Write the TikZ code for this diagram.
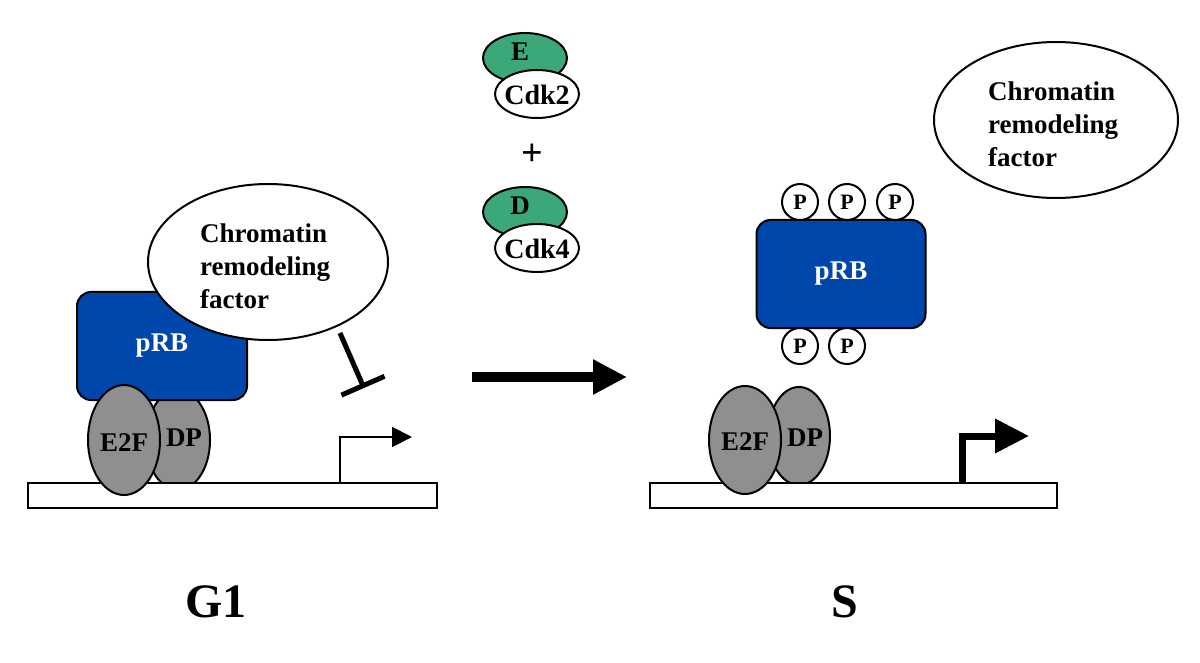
\documentclass[tikz,border=0pt]{standalone}
\usepackage{fontspec}
\setmainfont{Liberation Serif}
\usetikzlibrary{shapes.geometric,arrows.meta}
\definecolor{rbblue}{RGB}{0,71,171}
\definecolor{protgray}{RGB}{143,143,143}
\definecolor{cycgreen}{RGB}{60,168,122}
\begin{document}
\begin{tikzpicture}[x=1pt,y=-1pt,
  outl/.style={draw=black,line width=2pt},
  lbl/.style={font=\fontsize{27}{33}\selectfont\bfseries,inner sep=0pt},
  cdklbl/.style={font=\fontsize{28}{33}\selectfont\bfseries,inner sep=0pt},
  biglbl/.style={font=\fontsize{48}{56}\selectfont\bfseries,inner sep=0pt},
  prot/.style={ellipse,outl,fill=protgray,inner sep=0pt},
  dna/.style={rectangle,outl,fill=white,inner sep=0pt,minimum height=25pt},
  rbbox/.style={rectangle,rounded corners=14pt,outl,fill=rbblue,inner sep=0pt,
    font=\fontsize{27}{33}\selectfont\bfseries,text=white},
  crf/.style={ellipse,outl,fill=white,inner sep=0pt},
  cyc/.style={ellipse,outl,fill=cycgreen,inner sep=0pt,minimum width=84pt,minimum height=50pt},
  cdk/.style={ellipse,outl,fill=white,inner sep=0pt,minimum width=84pt,minimum height=48pt},
  phos/.style={circle,outl,fill=white,inner sep=0pt,minimum size=36pt,
    font=\fontsize{22}{24}\selectfont\bfseries},
]
\useasboundingbox (0,0) rectangle (1200,663);

% ---------------- G1 (left) ----------------
\node[prot,minimum width=64pt,minimum height=100pt] (dpL) at (178,440) {};
\node[dna,minimum width=409pt] (dnaL) at (232.5,495.5) {};
\node[rbbox,minimum width=170pt,minimum height=108pt] (prbL) at (162,346) {pRB};
\node[prot,minimum width=72pt,minimum height=110pt] (e2fL) at (124,440) {};
\node[lbl] (e2fLt) at (124,443) {E2F};
\node[lbl] (dpLt) at (184,438) {DP};
\node[crf,minimum width=240pt,minimum height=156pt] (crfL) at (268,262) {};
\node[lbl,align=left,anchor=west] (crfLt) at (200,266) {Chromatin\\remodeling\\factor};

\coordinate (inhS) at (340,333);
\coordinate (inhE) at (364,388);
\draw[line width=5pt,-{Bar[width=47pt]}] (inhS) -- (inhE);

\coordinate (tssL) at (340,483);
\coordinate (tssLend) at (412,437);
\draw[line width=2pt,-{Triangle[length=20pt,width=20pt]}] (tssL) |- (tssLend);

% ---------------- middle ----------------
\node[cyc] (cycE) at (525,58) {};
\node[lbl] (cycEt) at (520,52) {E};
\node[cdk] (cdk2) at (537,94) {};
\node[cdklbl] (cdk2t) at (537,95) {Cdk2};
\node[lbl,font=\fontsize{38}{40}\selectfont\bfseries] (plus) at (532,155) {+};
\node[cyc] (cycD) at (525,212) {};
\node[lbl] (cycDt) at (520,206) {D};
\node[cdk] (cdk4) at (537,248) {};
\node[cdklbl] (cdk4t) at (537,249) {Cdk4};

\coordinate (arrS) at (472,377);
\coordinate (arrE) at (627,377);
\draw[line width=10pt,-{Triangle[length=34pt,width=33pt]}] (arrS) -- (arrE);

% ---------------- S (right) ----------------
\node[rbbox,minimum width=169pt,minimum height=108pt] (prbR) at (841,274) {pRB};
\node[phos] (p1) at (800,202) {P};
\node[phos] (p2) at (847,202) {P};
\node[phos] (p3) at (895,202) {P};
\node[phos] (p4) at (800,346) {P};
\node[phos] (p5) at (847,346) {P};

\node[prot,minimum width=62pt,minimum height=98pt] (dpR) at (799,436) {};
\node[dna,minimum width=407pt] (dnaR) at (853.5,495.5) {};
\node[prot,minimum width=72pt,minimum height=108pt] (e2fR) at (745,440) {};
\node[lbl] (e2fRt) at (745,442) {E2F};
\node[lbl] (dpRt) at (805,438) {DP};

\coordinate (tssR) at (962,483);
\coordinate (tssRend) at (1029,436);
\draw[line width=7pt,-{Triangle[length=34pt,width=33pt]}] (tssR) |- (tssRend);

\node[crf,minimum width=244pt,minimum height=156pt] (crfR) at (1056,120) {};
\node[lbl,align=left,anchor=west] (crfRt) at (988,124) {Chromatin\\remodeling\\factor};

% ---------------- phase labels ----------------
\node[biglbl,anchor=base] (g1) at (216,617) {G1};
\node[biglbl,anchor=base] (sph) at (845,617) {S};
\end{tikzpicture}
\end{document}
